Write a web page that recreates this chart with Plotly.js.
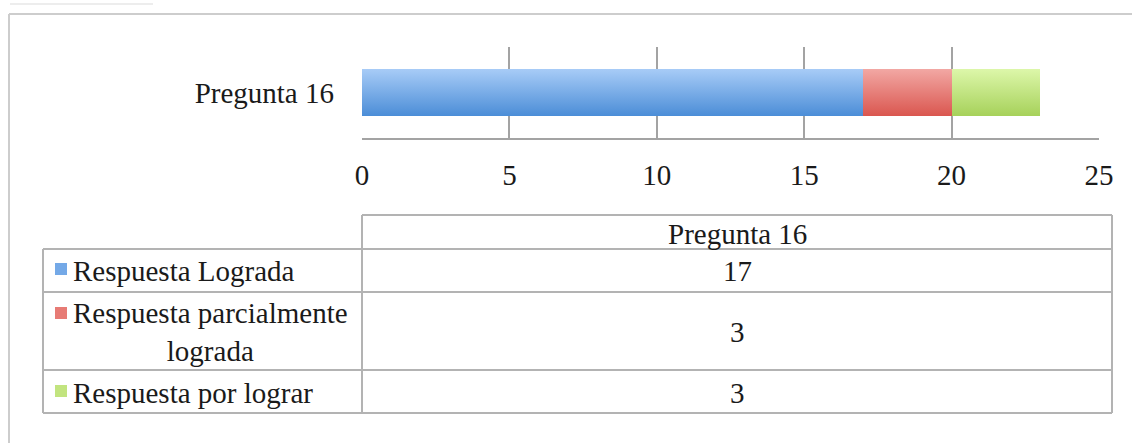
<!DOCTYPE html>
<html>
<head>
<meta charset="utf-8">
<script src="https://cdn.plot.ly/plotly-3.0.1.min.js"></script>
<style>html,body{margin:0;padding:0;background:#fff;}#chart{width:1132px;height:443px;}</style>
</head>
<body>
<div id="chart"></div>
<script>
const categories = ['Pregunta 16'];
const seriesNames = ['Respuesta Lograda', 'Respuesta parcialmente lograda', 'Respuesta por lograr'];
const tableLabels = ['Respuesta Lograda', 'Respuesta parcialmente<br>lograda', 'Respuesta por lograr'];
const seriesValues = [[17], [3], [3]];
const seriesColors = ['#74a9e7', '#e77b75', '#c2e47f'];
const gradTop = ['#a8ccf7', '#f2a8a4', '#ddf7aa'];
const gradBottom = ['#4b8dd7', '#da564f', '#a6d15a'];
const xTicks = [0, 5, 10, 15, 20, 25];

const W = 1132, H = 443;
const FONT = 'Liberation Serif, Times New Roman, serif';
const FS = 29;
const GRID = '#a3a3a3';
const TLINE = '#b3b3b3';
const TXT = '#1a1a1a';
const px = v => v / W;
const py = v => 1 - v / H;

const traces = seriesNames.map((name, i) => ({
  type: 'bar',
  orientation: 'h',
  name: name,
  y: categories,
  x: seriesValues[i],
  width: 0.52,
  marker: {color: seriesColors[i], line: {width: 0}},
  hoverinfo: 'x+name',
  showlegend: false
}));

// Data table geometry (pixels)
const tL = 43, tM = 362, tR = 1112;
const rowEdges = [215, 249, 292, 370, 413];
const rowTextY = [271, 332, 393];
const squareY = [269, 313, 391];

const shapes = [
  {type: 'line', xref: 'paper', yref: 'paper', x0: px(9), x1: 1, y0: py(14), y1: py(14), line: {color: '#cdcdcd', width: 2}},
  {type: 'line', xref: 'paper', yref: 'paper', x0: px(9), x1: px(9), y0: 0, y1: py(14), line: {color: '#cdcdcd', width: 2}},
  {type: 'line', xref: 'paper', yref: 'paper', x0: px(10), x1: px(153), y0: py(4), y1: py(4), line: {color: '#ededed', width: 2}},
  // header box
  {type: 'line', xref: 'paper', yref: 'paper', x0: px(tM), x1: px(tR), y0: py(rowEdges[0]), y1: py(rowEdges[0]), line: {color: TLINE, width: 2}},
  {type: 'line', xref: 'paper', yref: 'paper', x0: px(tM), x1: px(tM), y0: py(rowEdges[0]), y1: py(rowEdges[4]), line: {color: TLINE, width: 2}},
  {type: 'line', xref: 'paper', yref: 'paper', x0: px(tR), x1: px(tR), y0: py(rowEdges[0]), y1: py(rowEdges[4]), line: {color: TLINE, width: 2}},
  {type: 'line', xref: 'paper', yref: 'paper', x0: px(tL), x1: px(tL), y0: py(rowEdges[1]), y1: py(rowEdges[4]), line: {color: TLINE, width: 2}}
];
for (let k = 1; k < rowEdges.length; k++) {
  shapes.push({type: 'line', xref: 'paper', yref: 'paper', x0: px(tL), x1: px(tR), y0: py(rowEdges[k]), y1: py(rowEdges[k]), line: {color: TLINE, width: 2}});
}
seriesNames.forEach((n, i) => {
  shapes.push({type: 'rect', xref: 'paper', yref: 'paper', x0: px(55), x1: px(67), y0: py(squareY[i] - 6), y1: py(squareY[i] + 6), line: {width: 0}, fillcolor: seriesColors[i]});
});

const annotations = [
  {xref: 'paper', yref: 'paper', x: px((tM + tR) / 2), y: py(234), text: categories[0], showarrow: false, xanchor: 'center', yanchor: 'middle', font: {family: FONT, size: FS, color: TXT}}
];
seriesNames.forEach((n, i) => {
  const lines = tableLabels[i].split('<br>').length;
  annotations.push({xref: 'paper', yref: 'paper', x: px(71), y: py(lines > 1 ? (rowEdges[i + 1] + rowEdges[i + 2]) / 2 + 1 : rowTextY[i]), text: tableLabels[i], showarrow: false, xanchor: 'left', yanchor: 'middle', align: 'center', font: {family: FONT, size: FS, color: TXT}});
  annotations.push({xref: 'paper', yref: 'paper', x: px((tM + tR) / 2), y: py(rowTextY[i]), text: String(seriesValues[i][0]), showarrow: false, xanchor: 'center', yanchor: 'middle', font: {family: FONT, size: FS, color: TXT}});
});

const layout = {
  width: W,
  height: H,
  margin: {l: 0, r: 0, t: 0, b: 0},
  paper_bgcolor: 'white',
  plot_bgcolor: 'white',
  barmode: 'stack',
  showlegend: false,
  font: {family: FONT, size: FS, color: TXT},
  xaxis: {
    domain: [px(362), px(1099)],
    range: [0, 25],
    tickvals: xTicks,
    ticktext: xTicks.map(String),
    showgrid: true,
    gridcolor: GRID,
    gridwidth: 2,
    zeroline: false,
    showline: true,
    linecolor: GRID,
    linewidth: 2,
    ticks: '',
    ticklabelstandoff: 10,
    tickfont: {family: FONT, size: FS, color: TXT},
    fixedrange: true
  },
  yaxis: {
    domain: [py(138), py(47)],
    type: 'category',
    range: [-0.5, 0.5],
    showgrid: false,
    zeroline: false,
    showline: false,
    ticks: '',
    ticklabelstandoff: 27,
    tickfont: {family: FONT, size: FS, color: TXT},
    fixedrange: true
  },
  shapes: shapes,
  annotations: annotations
};

Plotly.newPlot('chart', traces, layout, {displayModeBar: false, staticPlot: true}).then(gd => {
  const svg = gd.querySelector('svg.main-svg');
  const NS = 'http://www.w3.org/2000/svg';
  const defs = document.createElementNS(NS, 'defs');
  seriesNames.forEach((n, i) => {
    const lg = document.createElementNS(NS, 'linearGradient');
    lg.setAttribute('id', 'bargrad' + i);
    lg.setAttribute('x1', '0'); lg.setAttribute('y1', '0');
    lg.setAttribute('x2', '0'); lg.setAttribute('y2', '1');
    [[0, gradTop[i]], [1, gradBottom[i]]].forEach(([o, c]) => {
      const st = document.createElementNS(NS, 'stop');
      st.setAttribute('offset', o);
      st.setAttribute('stop-color', c);
      lg.appendChild(st);
    });
    defs.appendChild(lg);
  });
  svg.insertBefore(defs, svg.firstChild);
  const groups = gd.querySelectorAll('.barlayer .trace');
  groups.forEach((g, i) => {
    g.querySelectorAll('path').forEach(p => { p.style.fill = 'url(#bargrad' + i + ')'; });
  });
});
</script>
</body>
</html>
